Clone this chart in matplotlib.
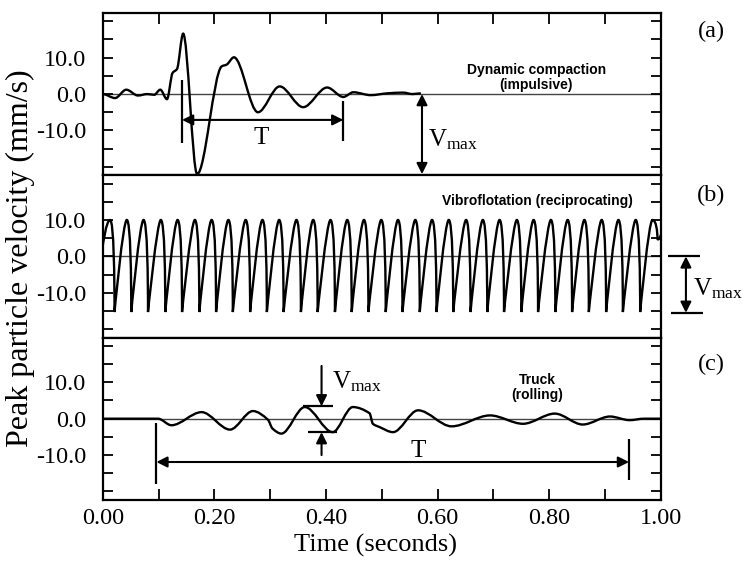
import matplotlib
matplotlib.use("Agg")
import matplotlib.pyplot as plt
from matplotlib.path import Path
from matplotlib.patches import PathPatch

plt.rcParams['font.family'] = ['Liberation Serif', 'DejaVu Serif']
plt.rcParams['mathtext.fontset'] = 'custom'
plt.rcParams['mathtext.rm'] = 'Liberation Serif'
plt.rcParams['mathtext.it'] = 'Liberation Serif:italic'
plt.rcParams['mathtext.bf'] = 'Liberation Serif:bold'

# ---------------- data ----------------
x_ticks = [0.0, 0.2, 0.4, 0.6, 0.8, 1.0]
x_tick_labels = ["0.00", "0.20", "0.40", "0.60", "0.80", "1.00"]
y_ticks = [-10, 0, 10]
y_tick_labels = ["-10.0", "0.0", "10.0"]

# (a) dynamic compaction: key points of the trace (time s, velocity mm/s)
a_time = [0.000, 0.022, 0.042, 0.063, 0.080, 0.092, 0.103, 0.115, 0.125, 0.133,
          0.144, 0.169, 0.213, 0.222, 0.235, 0.278, 0.317, 0.359, 0.402, 0.431,
          0.449, 0.480, 0.510, 0.538, 0.555, 0.570]
a_vel = [0.0, -1.1, 1.2, -0.4, 0.0, -0.2, 1.2, -1.4, 5.8, 6.9,
         16.6, -22.0, 7.6, 8.1, 10.1, -5.0, 2.1, -3.6, 1.8, -0.8,
         0.5, -0.3, 0.2, 0.4, 0.0, 0.2]

# (b) vibroflotation: peak and trough times of each cycle
b_peak_time = [0.013, 0.043, 0.073, 0.104, 0.134, 0.165, 0.195, 0.225, 0.256, 0.286,
               0.316, 0.347, 0.377, 0.408, 0.438, 0.468, 0.499, 0.529, 0.560, 0.590,
               0.620, 0.651, 0.681, 0.711, 0.742, 0.772, 0.803, 0.833, 0.863, 0.894,
               0.924, 0.955, 0.985]
b_trough_time = [0.021, 0.051, 0.081, 0.112, 0.142, 0.173, 0.203, 0.233, 0.264, 0.294,
                 0.324, 0.355, 0.385, 0.416, 0.446, 0.476, 0.507, 0.537, 0.568, 0.598,
                 0.628, 0.659, 0.689, 0.719, 0.750, 0.780, 0.811, 0.841, 0.871, 0.902,
                 0.932, 0.963]
b_peak_vel = 10.0
b_trough_vel = -15.3
b_start = (0.000, 3.0)
b_end_time = [0.994, 1.000]
b_end_vel = [4.8, 6.0]

# (c) truck: key points of the trace
c_time = [0.000, 0.099, 0.123, 0.177, 0.228, 0.269, 0.296, 0.304, 0.320, 0.362,
          0.412, 0.448, 0.478, 0.484, 0.496, 0.520, 0.565, 0.625, 0.694, 0.753,
          0.810, 0.860, 0.909, 0.944, 0.970, 1.000]
c_vel = [0.0, 0.0, -1.8, 1.8, -3.0, 2.1, -0.3, -2.7, -4.1, 3.2,
         -3.7, 3.2, 1.5, -1.4, -2.3, -3.7, 2.3, -2.1, 0.9, -1.4,
         1.4, -1.6, 0.6, -0.4, 0.0, 0.0]


def smooth_path(ts, vs):
    """Bezier path through key points with flat tangents at the extremes."""
    n = len(ts)
    slope = []
    for i in range(n):
        if i == 0 or i == n - 1:
            slope.append(0.0)
            continue
        d0 = (vs[i] - vs[i - 1]) / (ts[i] - ts[i - 1])
        d1 = (vs[i + 1] - vs[i]) / (ts[i + 1] - ts[i])
        if d0 * d1 <= 0:
            slope.append(0.0)
        else:
            slope.append(2 * d0 * d1 / (d0 + d1))
    verts = [(ts[0], vs[0])]
    codes = [Path.MOVETO]
    for i in range(n - 1):
        dt = ts[i + 1] - ts[i]
        c1 = (ts[i] + dt / 3, vs[i] + slope[i] * dt / 3)
        c2 = (ts[i + 1] - dt / 3, vs[i + 1] - slope[i + 1] * dt / 3)
        verts += [c1, c2, (ts[i + 1], vs[i + 1])]
        codes += [Path.CURVE4] * 3
    return Path(verts, codes)


def vibro_path(peaks, troughs, vp, vt, start, end_t, end_v):
    """Rounded tops, sharp bottoms: slanted rise, steep fall."""
    cap = 0.0068          # handle length giving the rounded top
    verts = [start]
    codes = [Path.MOVETO]
    prev = start
    for k, tp in enumerate(peaks):
        verts += [prev, (tp - cap, vp), (tp, vp)]
        codes += [Path.CURVE4] * 3
        if k < len(troughs):
            tt = troughs[k]
            verts += [(tp + cap, vp), (tt, vt + 9.0), (tt, vt)]
            codes += [Path.CURVE4] * 3
            prev = (tt, vt)
    verts += [(peaks[-1] + cap, vp), (end_t[0], end_v[0] + 2.0), (end_t[0], end_v[0])]
    codes += [Path.CURVE4] * 3
    verts += [(end_t[0] + 0.002, end_v[0] - 0.5), (end_t[1], end_v[1] - 0.5), (end_t[1], end_v[1])]
    codes += [Path.CURVE4] * 3
    return Path(verts, codes)


fig = plt.figure(figsize=(7.45, 5.61), dpi=100)
gs = fig.add_gridspec(3, 1, left=0.138, right=0.887, bottom=0.109, top=0.977, hspace=0)
axs = [fig.add_subplot(gs[i]) for i in range(3)]

TICK_FS = 17.5
for i, ax in enumerate(axs):
    ax.set_xlim(0, 1)
    ax.set_ylim(-22.3, 22.3)
    ax.set_yticks(y_ticks)
    ax.set_yticklabels(y_tick_labels, fontsize=TICK_FS)
    ax.set_yticks([-20, -15, -5, 5, 15, 20], minor=True)
    ax.set_xticks(x_ticks)
    ax.set_xticks([0.1, 0.3, 0.5, 0.7, 0.9], minor=True)
    ax.tick_params(axis='y', which='both', direction='in', left=True, right=True,
                   length=7, width=1.3, pad=12)
    ax.tick_params(axis='x', which='both', direction='in', length=8, width=1.3,
                   top=(i == 0), bottom=(i == 2), labelbottom=(i == 2), pad=6)
    for s in ax.spines.values():
        s.set_linewidth(1.6)
    ax.axhline(0, color='#444444', lw=1.0, zorder=1)

axs[2].set_xticklabels(x_tick_labels, fontsize=TICK_FS)
fig.text(376 / 745, 1 - 545 / 561, "Time (seconds)", fontsize=19, ha='center', va='center')
fig.text(20 / 745, 1 - 258 / 561, "Peak particle velocity (mm/s)", rotation=90, fontsize=23,
         ha='center', va='center')

LW = 1.7
axs[0].add_patch(PathPatch(smooth_path(a_time, a_vel), facecolor='none',
                           edgecolor='black', lw=LW, zorder=3))
axs[1].add_patch(PathPatch(vibro_path(b_peak_time, b_trough_time, b_peak_vel, b_trough_vel,
                                      b_start, b_end_time, b_end_vel),
                           facecolor='none', edgecolor='black', lw=LW, zorder=3))
axs[2].add_patch(PathPatch(smooth_path(c_time, c_vel), facecolor='none',
                           edgecolor='black', lw=LW, zorder=3))


def arrow(ax, tail, tip, style='-|>', clip=True):
    ax.annotate('', xy=tip, xytext=tail, annotation_clip=clip,
                arrowprops=dict(arrowstyle=style, lw=1.5, color='black',
                                mutation_scale=16, shrinkA=0, shrinkB=0))


def seg(ax, x0, y0, x1, y1, clip=True):
    ax.plot([x0, x1], [y0, y1], color='black', lw=1.6, clip_on=clip, solid_capstyle='butt')


VMAX = r"V$_{\mathrm{max}}$"
ANN_FS = 18

ax = axs[0]
seg(ax, 0.142, 3.8, 0.142, -13.4)
seg(ax, 0.431, -1.8, 0.431, -12.9)
arrow(ax, (0.142, -7.1), (0.431, -7.1), style='<|-|>')
ax.text(0.284, -12.0, "T", fontsize=ANN_FS, ha='center', va='center')
arrow(ax, (0.572, 0.0), (0.572, -22.0), style='<|-|>')
ax.text(0.582, -12.5, VMAX, fontsize=ANN_FS, ha='left', va='center')
ax.text(0.777, 4.6, "Dynamic compaction\n(impulsive)", family='Liberation Sans',
        fontweight='bold', fontsize=10, ha='center', va='center', linespacing=1.1)

ax = axs[1]
ax.text(0.779, 15.1, "Vibroflotation (reciprocating)", family='Liberation Sans',
        fontweight='bold', fontsize=10, ha='center', va='center')
seg(ax, 1.012, 0.0, 1.070, 0.0, clip=False)
seg(ax, 1.018, -15.5, 1.076, -15.5, clip=False)
arrow(ax, (1.045, 0.0), (1.045, -15.5), style='<|-|>', clip=False)
ax.text(1.057, -8.8, VMAX, fontsize=ANN_FS, ha='left', va='center', clip_on=False)

ax = axs[2]
ax.text(0.778, 8.5, "Truck\n(rolling)", family='Liberation Sans',
        fontweight='bold', fontsize=10, ha='center', va='center', linespacing=1.1)
arrow(ax, (0.392, 14.5), (0.392, 3.4))
seg(ax, 0.359, 3.4, 0.413, 3.4)
seg(ax, 0.368, -3.7, 0.420, -3.7)
arrow(ax, (0.392, -10.0), (0.392, -3.7))
ax.text(0.410, 10.3, VMAX, fontsize=ANN_FS, ha='left', va='center')
seg(ax, 0.096, -1.2, 0.096, -18.0)
seg(ax, 0.943, -5.5, 0.943, -16.9)
arrow(ax, (0.096, -11.9), (0.943, -11.9), style='<|-|>')
ax.text(0.566, -8.8, "T", fontsize=ANN_FS, ha='center', va='center')

for lab, yy in [("(a)", 1 - 31 / 561), ("(b)", 1 - 195 / 561), ("(c)", 1 - 364 / 561)]:
    fig.text(0.955, yy, lab, fontsize=17.5, ha='center', va='center')

fig.savefig("out.png", dpi=100)
